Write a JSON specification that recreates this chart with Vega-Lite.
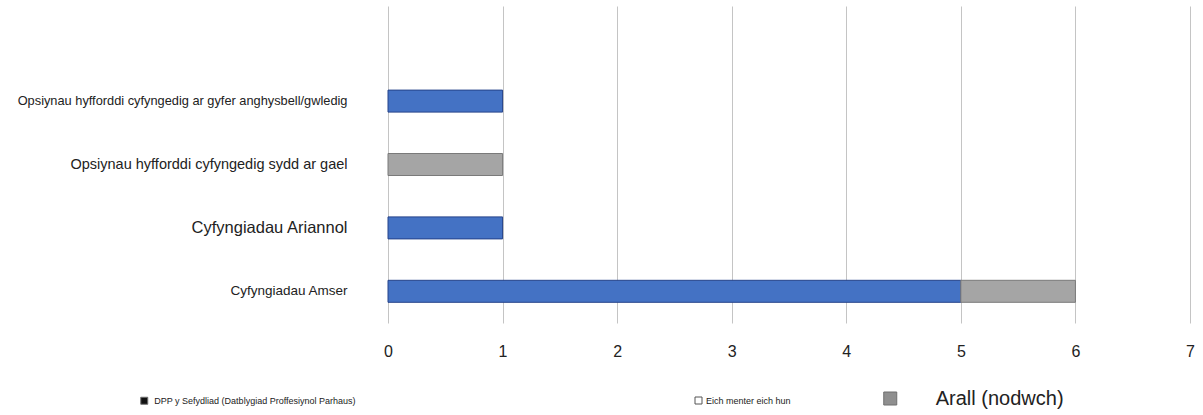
{
  "$schema": "https://vega.github.io/schema/vega-lite/v6.json",
  "width": 802,
  "height": 317,
  "autosize": {"type": "none"},
  "padding": {"left": 388, "top": 6, "right": 13, "bottom": 92},
  "background": "white",
  "config": {"view": {"stroke": null}, "font": "Liberation Sans"},
  "data": {
    "values": [
      {"cat": "Opsiynau hyfforddi cyfyngedig ar gyfer anghysbell/gwledig", "series": "DPP y Sefydliad (Datblygiad Proffesiynol Parhaus)", "n": 1},
      {"cat": "Opsiynau hyfforddi cyfyngedig sydd ar gael", "series": "Arall (nodwch)", "n": 1},
      {"cat": "Cyfyngiadau Ariannol", "series": "DPP y Sefydliad (Datblygiad Proffesiynol Parhaus)", "n": 1},
      {"cat": "Cyfyngiadau Amser", "series": "DPP y Sefydliad (Datblygiad Proffesiynol Parhaus)", "n": 5},
      {"cat": "Cyfyngiadau Amser", "series": "Arall (nodwch)", "n": 1},
      {"cat": "Opsiynau hyfforddi cyfyngedig ar gyfer anghysbell/gwledig", "series": "Eich menter eich hun", "n": 0},
      {"cat": "Opsiynau hyfforddi cyfyngedig sydd ar gael", "series": "Eich menter eich hun", "n": 0},
      {"cat": "Cyfyngiadau Ariannol", "series": "Eich menter eich hun", "n": 0},
      {"cat": "Cyfyngiadau Amser", "series": "Eich menter eich hun", "n": 0}
    ]
  },
  "resolve": {"axis": {"y": "independent"}},
  "encoding": {
    "x": {
      "field": "n",
      "type": "quantitative",
      "title": null,
      "stack": "zero",
      "scale": {"domain": [0, 7], "nice": false},
      "axis": {
        "values": [0, 1, 2, 3, 4, 5, 6, 7],
        "domain": false,
        "ticks": false,
        "grid": true,
        "gridColor": "#c4c4c4",
        "gridWidth": 1,
        "labelFontSize": 16,
        "labelPadding": 20,
        "labelColor": "#222222",
        "labelFlush": false,
        "labelFont": "Liberation Sans"
      }
    },
    "order": {"field": "series", "sort": "descending"}
  },
  "layer": [
    {
      "transform": [{"filter": "datum.series != 'Eich menter eich hun'"}],
      "mark": {"type": "bar", "size": 22, "strokeWidth": 1},
      "encoding": {
        "y": {
          "field": "cat",
          "type": "nominal",
          "title": null,
          "scale": {
            "domain": [" ", "Opsiynau hyfforddi cyfyngedig ar gyfer anghysbell/gwledig", "Opsiynau hyfforddi cyfyngedig sydd ar gael", "Cyfyngiadau Ariannol", "Cyfyngiadau Amser"],
            "paddingInner": 0,
            "paddingOuter": 0
          },
          "axis": {
            "domain": false,
            "ticks": false,
            "grid": false,
            "labelPadding": 41,
            "labelLimit": 400,
            "labelColor": "#222222",
            "labelFont": "Liberation Sans",
            "labelFontSize": {
              "condition": [
                {"test": "datum.value == 'Cyfyngiadau Ariannol'", "value": 16.5},
                {"test": "datum.value == 'Opsiynau hyfforddi cyfyngedig sydd ar gael'", "value": 14.5},
                {"test": "datum.value == 'Cyfyngiadau Amser'", "value": 13.5}
              ],
              "value": 12.8
            }
          }
        },
        "fill": {"condition": {"test": "datum.series == 'Arall (nodwch)'", "value": "#a5a5a5"}, "value": "#4472c4"},
        "stroke": {"condition": {"test": "datum.series == 'Arall (nodwch)'", "value": "#7a7a7a"}, "value": "#25438a"}
      }
    },
    {
      "transform": [{"filter": "datum.series != 'Eich menter eich hun'"}],
      "mark": {"type": "bar", "size": 22, "opacity": 0},
      "encoding": {
        "y": {"field": "cat", "type": "nominal", "axis": null},
        "color": {
          "field": "series",
          "type": "nominal",
          "scale": {"domain": ["DPP y Sefydliad (Datblygiad Proffesiynol Parhaus)", "Arall (nodwch)"], "range": ["#111111", "#8f8f8f"]},
          "legend": {
            "title": null,
            "orient": "none",
            "direction": "horizontal",
            "legendX": -248.25,
            "legendY": 387.75,
            "symbolType": "square",
            "symbolSize": 169,
            "symbolStrokeWidth": 1,
            "symbolStrokeColor": "#6f6f6f",
            "symbolOpacity": 1,
            "labelOffset": 5.5,
            "labelLimit": 400,
            "columnPadding": 526,
            "labelColor": "#222222",
            "labelFont": "Liberation Sans",
            "labelFontSize": 9,
            "encode": {
              "symbols": {
                "update": {
                  "size": {"signal": "datum.value == 'Arall (nodwch)' ? 169 : 49"},
                  "opacity": {"value": 1}
                }
              },
              "labels": {
                "update": {
                  "fontSize": {"signal": "datum.value == 'Arall (nodwch)' ? 20 : 9"},
                  "dx": {"signal": "datum.value == 'Arall (nodwch)' ? 35.5 : 0"}
                }
              }
            }
          }
        }
      }
    },
    {
      "transform": [{"filter": "datum.series == 'Eich menter eich hun'"}],
      "mark": {"type": "bar", "size": 22, "strokeWidth": 0},
      "encoding": {
        "y": {"field": "cat", "type": "nominal", "axis": null},
        "fill": {
          "field": "series",
          "type": "nominal",
          "scale": {"domain": ["Eich menter eich hun"], "range": ["#ffffff"]},
          "legend": {
            "title": null,
            "orient": "none",
            "direction": "horizontal",
            "legendX": 306,
            "legendY": 390,
            "symbolType": "square",
            "symbolSize": 49,
            "symbolStrokeWidth": 1,
            "symbolStrokeColor": "#555555",
            "symbolFillColor": "#ffffff",
            "labelOffset": 3,
            "labelLimit": 300,
            "labelColor": "#222222",
            "labelFont": "Liberation Sans",
            "labelFontSize": 9
          }
        }
      }
    }
  ]
}
